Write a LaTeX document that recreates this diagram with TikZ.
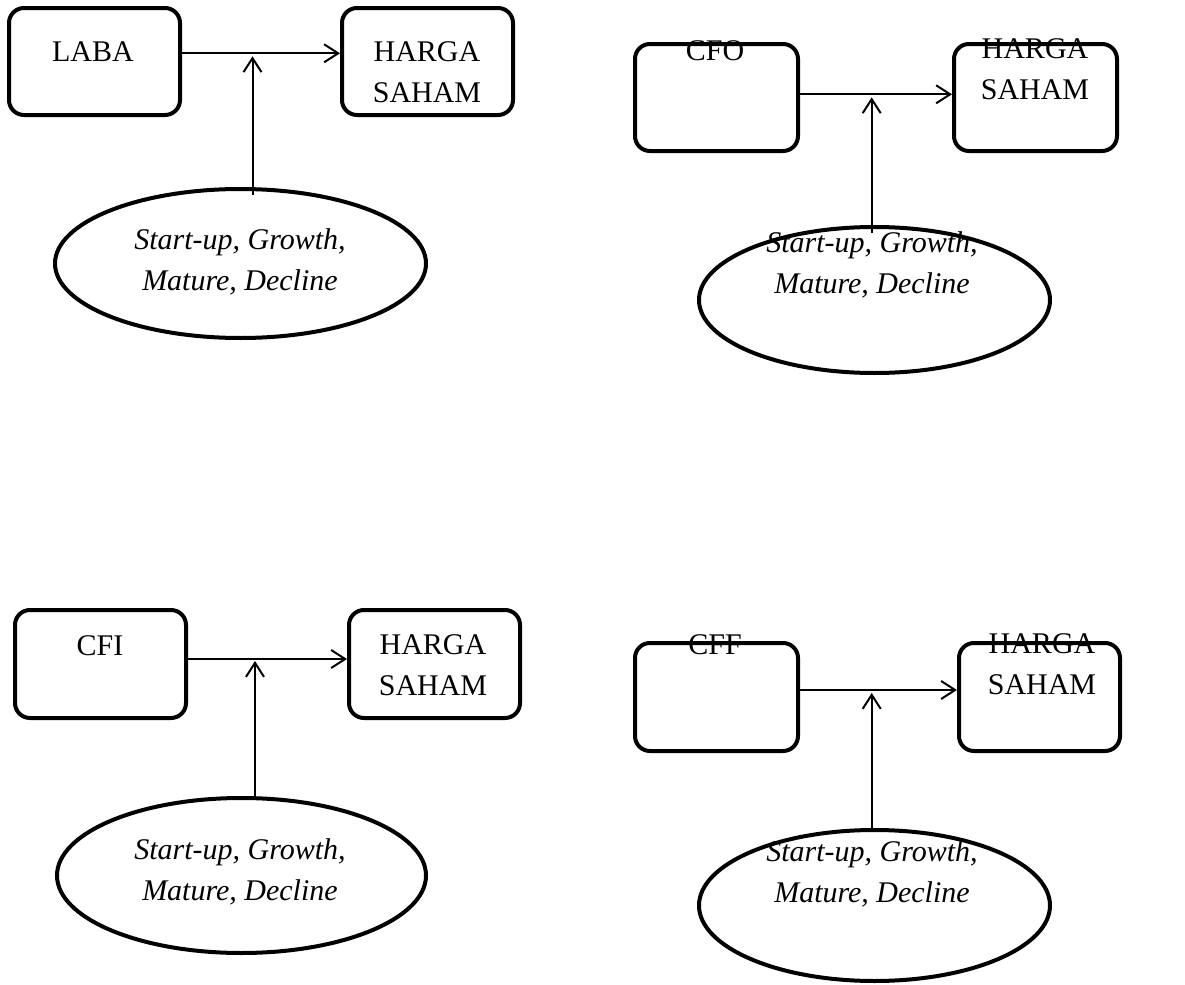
\documentclass[tikz,border=0pt]{standalone}
\usepackage{fontspec}
\setmainfont{Liberation Serif}
\usetikzlibrary{shapes.geometric,arrows.meta}
\tikzset{
  box/.style={draw, line width=2pt, rounded corners=7.5pt, inner sep=0pt},
  ell/.style={draw, ellipse, line width=2pt, inner sep=0pt},
  lbl/.style={font=\fontsize{15}{20.5}\selectfont, align=center, inner sep=0pt},
  itl/.style={lbl, font=\fontsize{15}{20.5}\selectfont\itshape},
  arr/.style={-{Straight Barb[length=7pt,width=9pt]}, line width=1pt},
}
\begin{document}
\begin{tikzpicture}[x=0.5pt, y=-0.5pt]
\useasboundingbox (0,0) rectangle (1185,985);
% ---------- panel 1 ----------
\node[box, minimum width=85.5pt, minimum height=53.5pt] (b1) at (94.5,61.5) {};
\node[box, minimum width=85.5pt, minimum height=53.5pt] (h1) at (427.5,61.5) {};
\node[ell, minimum width=185.5pt, minimum height=74.5pt] (e1) at (240.5,263.5) {};
\node[lbl] (t1) at (93,52) {LABA};
\node[lbl] (s1) at (427,72) {HARGA\\SAHAM};
\node[itl] (p1) at (240,262) {Start-up, Growth,\\Mature, Decline};
\coordinate (j1) at (252.5,53.3);
\draw[arr] (b1.east |- j1) -- (h1.west |- j1);
\draw[arr] ([yshift=-4pt]e1.north -| j1) -- ([yshift=-1.5pt]j1);
% ---------- panel 2 ----------
\node[box, minimum width=81.5pt, minimum height=53.5pt] (b2) at (716.5,97.5) {};
\node[box, minimum width=81.5pt, minimum height=53.5pt] (h2) at (1035.5,97.5) {};
\node[ell, minimum width=175.5pt, minimum height=73pt] (e2) at (874.5,300) {};
\node[lbl] (t2) at (715,51) {CFO};
\node[lbl] (s2) at (1035,69) {HARGA\\SAHAM};
\node[itl] (p2) at (872,265) {Start-up, Growth,\\Mature, Decline};
\coordinate (j2) at (871.7,94.3);
\draw[arr] (b2.east |- j2) -- (h2.west |- j2);
\draw[arr] ([yshift=-4pt]e2.north -| j2) -- ([yshift=-1.5pt]j2);
% ---------- panel 3 ----------
\node[box, minimum width=85.5pt, minimum height=54pt] (b3) at (100.5,664) {};
\node[box, minimum width=85.5pt, minimum height=54pt] (h3) at (434.5,664) {};
\node[ell, minimum width=184.5pt, minimum height=77.5pt] (e3) at (241.5,875.5) {};
\node[lbl] (t3) at (100,646) {CFI};
\node[lbl] (s3) at (433,665) {HARGA\\SAHAM};
\node[itl] (p3) at (240,872) {Start-up, Growth,\\Mature, Decline};
\coordinate (j3) at (255,659);
\draw[arr] (b3.east |- j3) -- (h3.west |- j3);
\draw[arr] (e3.north -| j3) -- ([yshift=-1pt]j3);
% ---------- panel 4 ----------
\node[box, minimum width=81.5pt, minimum height=54pt] (b4) at (716.5,697) {};
\node[box, minimum width=80.5pt, minimum height=54pt] (h4) at (1039.5,697) {};
\node[ell, minimum width=175.5pt, minimum height=75.5pt] (e4) at (874.5,905.5) {};
\node[lbl] (t4) at (715,645) {CFF};
\node[lbl] (s4) at (1042,664) {HARGA\\SAHAM};
\node[itl] (p4) at (872,874) {Start-up, Growth,\\Mature, Decline};
\coordinate (j4) at (871.7,690);
\draw[arr] (b4.east |- j4) -- (h4.west |- j4);
\draw[arr] (e4.north -| j4) -- ([yshift=-1.5pt]j4);
\end{tikzpicture}
\end{document}
